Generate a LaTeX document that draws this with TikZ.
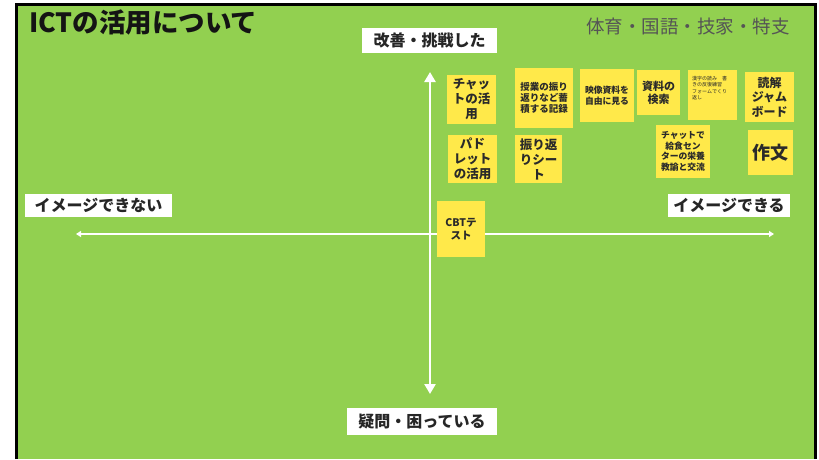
\documentclass[tikz,border=0pt]{standalone}
\usepackage{fontspec}
\usetikzlibrary{arrows.meta}
\newfontfamily\jp{Noto Sans CJK JP}
\definecolor{bggreen}{HTML}{92D050}
\definecolor{sticky}{HTML}{FFE94A}
\definecolor{subgray}{HTML}{555555}
\definecolor{stxt}{HTML}{2A2A2A}
\newcommand{\fs}[1]{\fontsize{#1}{\fpeval{#1*1.2}}\selectfont}
\tikzset{
  stickynote/.style={fill=sticky, draw=none, inner sep=0pt, align=center, text=stxt},
  axislabel/.style={fill=white, draw=none, inner sep=0pt, font=\jp\bfseries\fontsize{16}{18}\selectfont, text=black!85},
  axisarrow/.style={draw=white, line width=2.6pt},
}
\begin{document}
\begin{tikzpicture}[x=1pt,y=-1pt]
\useasboundingbox (0,0) rectangle (819,459);
\fill[white] (0,0) rectangle (819,459);
\fill[bggreen] (16,4) rectangle (816,459);
\draw[black, line width=3pt] (16.5,459) -- (16.5,4.5) -- (815.5,4.5) -- (815.5,459);

% title
\node[anchor=west, inner sep=0pt, font=\jp\bfseries\fontsize{26.5}{30}\selectfont, text=black!92] (title) at (29,22) {ICTの活用について};
\node[anchor=east, inner sep=0pt, font=\jp\fontsize{18.5}{21}\selectfont, text=subgray] (subjects) at (790,26) {体育・国語・技家・特支};

% axes
\coordinate (vtop) at (430,72);
\coordinate (vbot) at (430,394);
\coordinate (hleft) at (76,234);
\coordinate (hright) at (774,234);
\draw[axisarrow, {Triangle[width=11pt,length=10pt]}-{Triangle[width=11pt,length=10pt]}] (vtop) -- (vbot);
\draw[axisarrow, line width=2pt, {Triangle[width=6pt,length=5pt]}-{Triangle[width=6pt,length=5pt]}] (hleft) -- (hright);

% axis labels
\node[axislabel, minimum width=135pt, minimum height=25pt] (top) at (429.5,40.5) {改善・挑戦した};
\node[axislabel, minimum width=147pt, minimum height=23pt] (left) at (98.5,205.5) {イメージできない};
\node[axislabel, minimum width=122pt, minimum height=23pt] (right) at (729,205.5) {イメージできる};
\node[axislabel, minimum width=150pt, minimum height=27pt] (bottom) at (422,421.5) {疑問・困っている};

% sticky notes
\node[stickynote, minimum width=49pt, minimum height=49pt, font=\jp\bfseries\fs{12.5}] (s1) at (471.5,99.5) {チャッ\\トの活\\用};
\node[stickynote, minimum width=58pt, minimum height=60pt, font=\jp\bfseries\fs{9.5}] (s2) at (544,98) {授業の振り\\返りなど蓄\\積する記録};
\node[stickynote, minimum width=54pt, minimum height=53pt, font=\jp\bfseries\fs{8.8}] (s3) at (607,95.5) {映像資料を\\自由に見る};
\node[stickynote, minimum width=43pt, minimum height=45pt, font=\jp\bfseries\fs{11}] (s4) at (658.5,92.5) {資料の\\検索};
\node[stickynote, minimum width=49pt, minimum height=50pt] (s5) at (712.5,95) {};
\node[anchor=north west, inner sep=0pt, align=left, text=stxt, font=\jp\fontsize{5}{6.5}\selectfont] (s5t) at (692,76) {漢字の読み　書\\きの反復練習\\フォームでくり\\返し};
\node[stickynote, minimum width=49pt, minimum height=50pt, font=\jp\bfseries\fs{12}] (s6) at (769.5,97) {読解\\ジャム\\ボード};
\node[stickynote, minimum width=49pt, minimum height=48pt, font=\jp\bfseries\fs{12.5}] (s7) at (472.5,159) {パド\\レット\\の活用};
\node[stickynote, minimum width=47pt, minimum height=48pt, font=\jp\bfseries\fs{12.5}] (s8) at (538.5,159) {振り返\\りシー\\ト};
\node[stickynote, minimum width=54pt, minimum height=53pt, font=\jp\bfseries\fs{8.8}] (s9) at (683,151.5) {チャットで\\給食セン\\ターの栄養\\教諭と交流};
\node[stickynote, minimum width=45pt, minimum height=45pt, font=\jp\bfseries\fs{18}] (s10) at (770.5,152.5) {作文};
\node[stickynote, minimum width=48pt, minimum height=56pt, font=\jp\bfseries\fs{10.5}] (s11) at (461,229) {CBTテ\\スト};
\end{tikzpicture}
\end{document}
